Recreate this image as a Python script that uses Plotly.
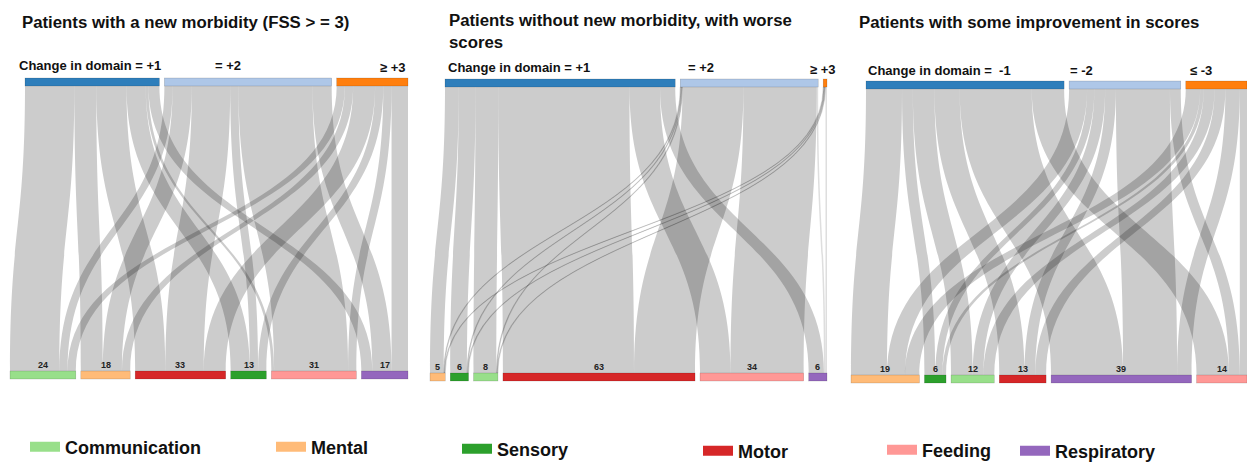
import plotly.graph_objects as go

FIG_W, FIG_H = 1247, 463

# ---------------- data ----------------
domain_names = ["Communication", "Mental", "Sensory", "Motor", "Feeding", "Respiratory"]

# Panel 1: patients with a new morbidity
p1_title = "Patients with a new morbidity (FSS > = 3)"
p1_levels = ["Change in domain = +1", "= +2", "\u2265 +3"]
p1_targets = ["Communication", "Mental", "Motor", "Sensory", "Feeding", "Respiratory"]
p1_totals = [24, 18, 33, 13, 31, 17]
p1_from_1 = [18, 8, 11, 7, 1, 4]
p1_from_2 = [3, 7, 14, 3, 27, 7]
p1_from_3 = [3, 3, 8, 3, 3, 6]

# Panel 2: without new morbidity, with worse scores
p2_title = "Patients without new morbidity, with worse<br>scores"
p2_levels = ["Change in domain = +1", "= +2", "\u2265 +3"]
p2_targets = ["Mental", "Sensory", "Communication", "Motor", "Feeding", "Respiratory"]
p2_totals = [5, 6, 8, 63, 34, 6]
p2_from_1 = [4.5, 5.5, 7.5, 43, 10, 5]
p2_from_2 = [0.25, 0.25, 0.25, 20, 24, 0.5]
p2_from_3 = [0.25, 0.25, 0.25, 0, 0, 0.5]

# Panel 3: some improvement in scores
p3_title = "Patients with some improvement in scores"
p3_levels = ["Change in domain =  -1", "= -2", "\u2264 -3"]
p3_targets = ["Mental", "Sensory", "Communication", "Motor", "Respiratory", "Feeding"]
p3_totals = [19, 6, 12, 13, 39, 14]
p3_from_1 = [10, 3, 6, 7, 20, 9]
p3_from_2 = [5, 2, 3, 3, 15, 3]
p3_from_3 = [4, 1, 3, 3, 4, 2]

# ---------------- styles ----------------
level_colors = ["#2e7ebb", "#aec7e8", "#ff7f0e"]
domain_colors = {
    "Communication": "#98df8a",
    "Mental": "#ffbb78",
    "Sensory": "#2ca02c",
    "Motor": "#d62728",
    "Feeding": "#ff9896",
    "Respiratory": "#9467bd",
}
LINK_COLOR = "rgba(0,0,0,0.2)"
THIN_LINK_COLOR = "rgba(0,0,0,0.13)"
PAD = 5
THICK = 8
FONT = "Liberation Sans, Arial, sans-serif"

# legend placement (swatch left px, centre y px)
legend_pos = {
    "Communication": (30, 447),
    "Mental": (276, 447),
    "Sensory": (462, 449),
    "Motor": (703, 451),
    "Feeding": (887, 450),
    "Respiratory": (1020, 451),
}

panels = [
    dict(title=p1_title, levels=p1_levels, targets=p1_targets, totals=p1_totals,
         flows=[p1_from_1, p1_from_2, p1_from_3],
         box=(10, 408, 78, 379), title_pos=(20, 22),
         label_pos=[(17, 'left', 66), (213, 'left', 66), (408, 'right', 68)]),
    dict(title=p2_title, levels=p2_levels, targets=p2_targets, totals=p2_totals,
         flows=[p2_from_1, p2_from_2, p2_from_3],
         box=(430, 827, 79, 381), title_pos=(447, 32),
         label_pos=[(446, 'left', 68), (686, 'left', 68), (838, 'right', 69)]),
    dict(title=p3_title, levels=p3_levels, targets=p3_targets, totals=p3_totals,
         flows=[p3_from_1, p3_from_2, p3_from_3],
         box=(851, 1247, 81, 383), title_pos=(857, 23),
         label_pos=[(866, 'left', 70), (1068, 'left', 70), (1188, 'left', 70)]),
]

fig = go.Figure()
annotations = []

for p in panels:
    x0, x1, y0, y1 = p["box"]
    W = x1 - x0          # across-flow size (screen horizontal)
    H = y1 - y0          # along-flow size (screen vertical)
    flows = p["flows"]
    ntop = len(flows)
    nbot = len(p["targets"])
    bot_vals = [sum(f[j] for f in flows) for j in range(nbot)]
    top_vals = [sum(f) for f in flows]
    total = sum(bot_vals)
    ky = (W - (nbot - 1) * PAD) / total

    # bottom node centres (left aligned)
    bot_c = []
    pos = 0.0
    for v in bot_vals:
        h = v * ky
        bot_c.append(pos + h / 2)
        pos += h + PAD
    # top node centres (right aligned)
    top_span = total * ky + (ntop - 1) * PAD
    pos = W - top_span
    top_c = []
    for v in top_vals:
        h = v * ky
        top_c.append(pos + h / 2)
        pos += h + PAD

    # plotly (vertical, fixed): layer pos = node.x * domain width, across pos = node.y * domain height
    node_x = [(THICK / 2) / W] * ntop + [(H - THICK / 2) / W] * nbot
    node_y = [c / H for c in top_c] + [c / H for c in bot_c]
    node_colors = level_colors + [domain_colors[t] for t in p["targets"]]
    labels = p["levels"] + p["targets"]

    src, tgt, val, lcol = [], [], [], []
    for i, f in enumerate(flows):
        for j, v in enumerate(f):
            if v > 0:
                src.append(i)
                tgt.append(ntop + j)
                val.append(v)
                lcol.append(THIN_LINK_COLOR if v < 1 else LINK_COLOR)

    fig.add_trace(go.Sankey(
        orientation="v",
        arrangement="fixed",
        domain=dict(x=[x0 / FIG_W, x1 / FIG_W], y=[1 - y1 / FIG_H, 1 - y0 / FIG_H]),
        node=dict(label=labels, color=node_colors, x=node_x, y=node_y,
                  pad=PAD, thickness=THICK,
                  line=dict(color="rgba(0,0,0,0.25)", width=0.5)),
        link=dict(source=src, target=tgt, value=val, color=lcol,
                  line=dict(width=0)),
        textfont=dict(color="rgba(0,0,0,0)", size=1),
    ))

    # numbers above bottom nodes
    for c, t in zip(bot_c, p["totals"]):
        annotations.append(dict(
            x=(x0 + c) / FIG_W, y=1 - (y1 - THICK) / FIG_H, xref="paper", yref="paper",
            text=f"<b>{t}</b>", showarrow=False, xanchor="center", yanchor="bottom",
            font=dict(family=FONT, size=9, color="#222"), yshift=-1))

    # level labels
    for lab, (lx, anc, ly) in zip(p["levels"], p["label_pos"]):
        annotations.append(dict(
            x=lx / FIG_W, y=1 - ly / FIG_H, xref="paper", yref="paper",
            text=f"<b>{lab}</b>", showarrow=False, xanchor=anc, yanchor="middle",
            font=dict(family=FONT, size=13, color="#111")))

    # panel title
    tx, ty = p["title_pos"]
    annotations.append(dict(
        x=tx / FIG_W, y=1 - ty / FIG_H, xref="paper", yref="paper",
        text=f"<b>{p['title']}</b>", showarrow=False, xanchor="left", yanchor="middle",
        align="left", font=dict(family=FONT, size=16.8, color="#111")))

# legend entries, one legend per entry so each can sit at its own place
legend_layouts = {}
for k, name in enumerate(domain_names):
    lname = "legend" if k == 0 else f"legend{k + 1}"
    fig.add_trace(go.Scatter(
        x=[None], y=[None], mode="lines", name=f"<b>{name}</b>", legend=lname,
        line=dict(color=domain_colors[name], width=10), hoverinfo="skip"))
    sx, sy = legend_pos[name]
    legend_layouts[lname] = dict(
        orientation="h", x=(sx - 5) / FIG_W, y=1 - sy / FIG_H,
        xanchor="left", yanchor="middle",
        font=dict(family=FONT, size=18, color="#111"),
        bgcolor="rgba(0,0,0,0)")

fig.update_layout(
    width=FIG_W, height=FIG_H,
    margin=dict(l=0, r=0, t=0, b=0, autoexpand=False),
    paper_bgcolor="white", plot_bgcolor="white",
    xaxis=dict(visible=False), yaxis=dict(visible=False),
    annotations=annotations,
    showlegend=True,
    font=dict(family=FONT),
    **legend_layouts,
)

fig.write_html("out.html", config={"displayModeBar": False},
               post_script="document.body.style.margin='0';")
